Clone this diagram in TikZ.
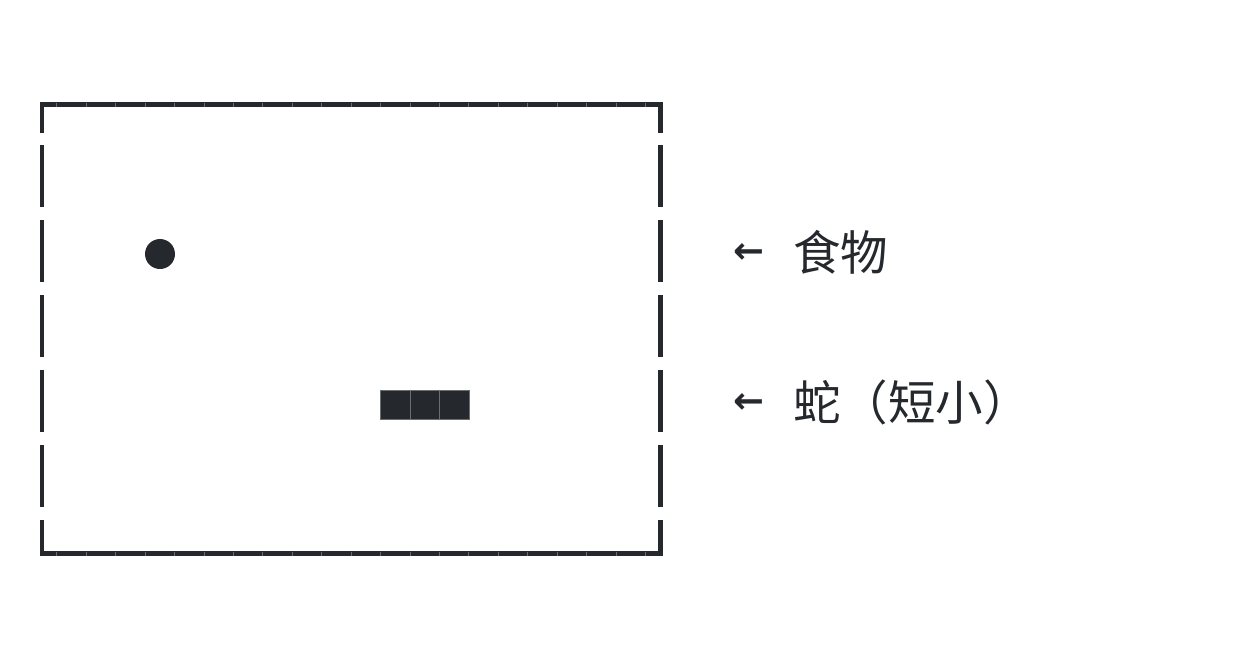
\documentclass[tikz,border=0pt]{standalone}
\usepackage{fontspec}
\newfontfamily\cjk{Noto Sans CJK SC}
\newfontfamily\arrfont{DejaVu Sans}
\definecolor{ink}{HTML}{25292E}
\definecolor{seamc}{HTML}{6A6E73}
\begin{document}
\begin{tikzpicture}[x=1pt,y=-1pt,
  border/.style={draw=ink,line width=4.4pt,line cap=butt,line join=miter},
  seam/.style={draw=seamc,line width=0.5pt},
  cell/.style={rectangle,fill=ink,draw=seamc,line width=0.5pt,minimum width=29.4pt,minimum height=29.4pt,inner sep=0pt},
  lbl/.style={font=\cjk\fontsize{47.5}{52}\selectfont,text=ink,inner sep=0pt},
  arr/.style={font=\arrfont\bfseries\fontsize{37}{40}\selectfont,text=ink,inner sep=0pt}]
\useasboundingbox (0,0) rectangle (1252,654);
\fill[white] (0,0) rectangle (1252,654);
% border
\draw[border] (41.7,133.3) -- (41.7,104.5) -- (660.5,104.5) -- (660.5,133.3);
\draw[border] (41.7,520) -- (41.7,553.5) -- (660.5,553.5) -- (660.5,520);
\foreach \a/\b in {145/206.7,220/281.7,295/356.7,370/431.7,445/506.7}{
  \draw[border] (41.7,\a) -- (41.7,\b);
  \draw[border] (660.5,\a) -- (660.5,\b);
}
\foreach \k in {0,...,20}{
  \draw[seam] ({56.7+29.43*\k},102.5) -- ({56.7+29.43*\k},106.5);
  \draw[seam] ({56.7+29.43*\k},551.5) -- ({56.7+29.43*\k},555.5);
}
% food
\node[circle,fill=ink,minimum size=30pt,inner sep=0pt] (food) at (160,254) {};
% snake
\node[cell] (s1) at (395.4,404.6) {};
\node[cell] (s2) at (424.8,404.6) {};
\node[cell] (s3) at (454.2,404.6) {};
% labels
\node[arr] (a1) at (748.7,253.7) {←};
\node[lbl,anchor=base west] (t1) at (793,270.5) {食物};
\node[arr] (a2) at (748.7,403.5) {←};
\node[lbl,anchor=base west] (t2) at (793,420.5) {蛇（短小）};
\end{tikzpicture}
\end{document}
